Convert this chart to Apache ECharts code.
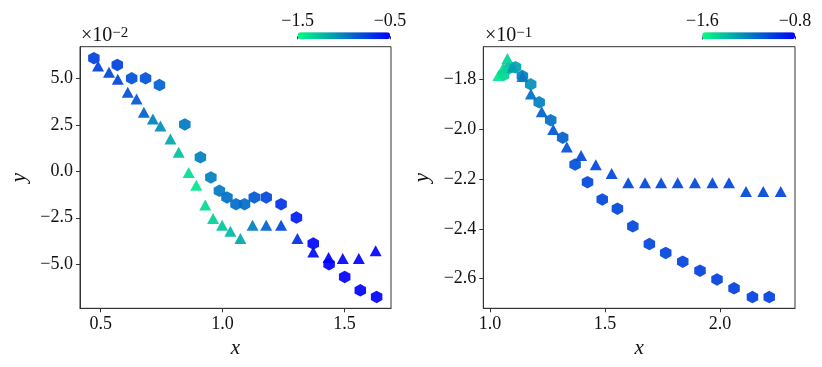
<!DOCTYPE html>
<html>
<head>
<meta charset="utf-8">
<script src="https://cdn.jsdelivr.net/npm/echarts@6/dist/echarts.min.js"></script>
<style>
  html, body { margin: 0; padding: 0; background: #fff; }
  #chart { width: 822px; height: 367px; }
</style>
</head>
<body>
<div id="chart"></div>
<script>
// left panel (y shown in units of 1e-2), colour value = third column
var leftHexX = [0.472, 0.568, 0.627, 0.684, 0.741, 0.845, 0.909, 0.952, 0.987, 1.018, 1.055,
  1.090, 1.130, 1.179, 1.240, 1.303, 1.372, 1.437, 1.501, 1.565, 1.632];
var leftHexY = [6.08, 5.72, 5.00, 5.00, 4.64, 2.52, 0.75, -0.33, -1.05, -1.41, -1.77,
  -1.77, -1.41, -1.41, -1.77, -2.49, -3.89, -5.00, -5.68, -6.40, -6.76];
var leftHexC = [-0.75, -0.75, -0.81, -0.81, -0.88, -0.97, -1.0, -1.0, -0.97, -0.94, -0.92,
  -0.92, -0.85, -0.78, -0.69, -0.60, -0.52, -0.50, -0.48, -0.46, -0.45];

var leftTriX = [0.489, 0.534, 0.570, 0.611, 0.647, 0.677, 0.714, 0.745, 0.786, 0.820, 0.861,
  0.892, 0.929, 0.961, 0.998, 1.032, 1.073, 1.123, 1.179, 1.240, 1.307, 1.372, 1.435,
  1.493, 1.559, 1.628];
var leftTriY = [5.66, 5.32, 4.95, 4.25, 3.89, 3.17, 2.81, 2.43, 1.73, 1.02, -0.06,
  -0.75, -1.82, -2.54, -2.90, -3.22, -3.62, -2.90, -2.90, -2.90, -3.62, -4.34, -4.64,
  -4.69, -4.69, -4.28];
var leftTriC = [-0.75, -0.78, -0.78, -0.81, -0.84, -0.88, -1.0, -1.06, -1.16, -1.25, -1.38,
  -1.40, -1.36, -1.32, -1.28, -1.22, -1.16, -1.0, -0.88, -0.78, -0.68, -0.55, -0.50,
  -0.48, -0.47, -0.46];

// right panel (y shown in units of 1e-1)
var rightHexX = [1.059, 1.083, 1.111, 1.141, 1.177, 1.214, 1.264, 1.316, 1.370, 1.424, 1.488,
  1.554, 1.621, 1.693, 1.764, 1.838, 1.913, 1.987, 2.061, 2.141, 2.214];
var rightHexY = [-1.783, -1.755, -1.751, -1.787, -1.820, -1.892, -1.964, -2.034, -2.142, -2.213, -2.282,
  -2.319, -2.390, -2.461, -2.497, -2.532, -2.568, -2.603, -2.639, -2.674, -2.674];
var rightHexC = [-1.46, -1.40, -1.30, -1.20, -1.25, -1.20, -1.15, -1.10, -1.05, -1.02, -1.02,
  -1.02, -1.02, -1.02, -1.01, -1.01, -1.0, -1.0, -1.0, -1.0, -1.0];

var rightTriX = [1.037, 1.057, 1.076, 1.098, 1.141, 1.178, 1.225, 1.275, 1.334, 1.396, 1.460,
  1.529, 1.601, 1.674, 1.744, 1.816, 1.891, 1.967, 2.039, 2.113, 2.188, 2.264];
var rightTriY = [-1.785, -1.755, -1.716, -1.751, -1.789, -1.859, -1.930, -2.001, -2.072, -2.106, -2.143,
  -2.178, -2.215, -2.215, -2.215, -2.215, -2.215, -2.215, -2.215, -2.250, -2.250, -2.250];
var rightTriC = [-1.52, -1.48, -1.46, -1.30, -1.18, -1.15, -1.10, -1.07, -1.05, -1.03, -1.02,
  -1.02, -1.02, -1.02, -1.02, -1.02, -1.02, -1.02, -1.02, -1.02, -1.02, -1.02];

var leftXTicks = [0.5, 1.0, 1.5];
var leftYTicks = [-5, -2.5, 0, 2.5, 5];
var rightXTicks = [1.0, 1.5, 2.0];
var rightYTicks = [-2.6, -2.4, -2.2, -2.0, -1.8];
var leftBarTicks = [-1.5, -0.5];
var rightBarTicks = [-1.6, -0.8];

function zip(xs, ys, cs) {
  return xs.map(function (x, i) { return [x, ys[i], cs[i]]; });
}
function fmt(v) {
  return (v < 0 ? "\u2212" : "") + Math.abs(v).toFixed(1);
}

var FONT = "Liberation Serif";
var AXIS = "#333";
var hexPath = "path://M0,-10 L8.66,-5 L8.66,5 L0,10 L-8.66,5 L-8.66,-5 Z";

function mainX(grid, min, max, ticks) {
  return {
    gridIndex: grid, type: "value", min: min, max: max,
    name: "x", nameLocation: "middle", nameGap: 27,
    nameTextStyle: { fontFamily: FONT, fontStyle: "italic", fontSize: 21, color: "#111" },
    axisLine: { show: true, onZero: false, lineStyle: { color: AXIS, width: 1 } },
    axisTick: { show: true, length: 4, customValues: ticks, lineStyle: { color: AXIS } },
    axisLabel: { customValues: ticks, formatter: fmt, margin: 7, fontFamily: FONT, fontSize: 18, color: "#111" },
    splitLine: { show: false }
  };
}
function mainY(grid, min, max, ticks, gap) {
  return {
    gridIndex: grid, type: "value", min: min, max: max,
    name: "y", nameLocation: "middle", nameGap: gap,
    nameTextStyle: { fontFamily: FONT, fontStyle: "italic", fontSize: 21, color: "#111" },
    axisLine: { show: true, onZero: false, lineStyle: { color: AXIS, width: 1 } },
    axisTick: { show: true, length: 4, customValues: ticks, lineStyle: { color: AXIS } },
    axisLabel: { customValues: ticks, formatter: fmt, margin: 7, fontFamily: FONT, fontSize: 18, color: "#111" },
    splitLine: { show: false }
  };
}
function barX(grid, ticks) {
  return {
    gridIndex: grid, type: "value", position: "top", min: ticks[0], max: ticks[1],
    axisLine: { show: false },
    axisTick: { show: true, length: 3, customValues: ticks, lineStyle: { color: AXIS } },
    axisLabel: { customValues: ticks, formatter: fmt, margin: 2, fontFamily: FONT, fontSize: 18, color: "#111" },
    splitLine: { show: false }
  };
}
function offsetTitle(left, exp) {
  return {
    text: "{a|\u00d710}{b|" + exp + "}", left: left, top: 26, padding: 0,
    textStyle: {
      fontWeight: "normal",
      rich: {
        a: { fontFamily: FONT, fontSize: 20, fontWeight: "normal", color: "#111", verticalAlign: "bottom", lineHeight: 20 },
        b: { fontFamily: FONT, fontSize: 15, fontWeight: "normal", color: "#111", verticalAlign: "top", lineHeight: 20 }
      }
    }
  };
}
function scatter(xi, data, symbol, size, z) {
  return {
    type: "scatter", xAxisIndex: xi, yAxisIndex: xi, data: data,
    symbol: symbol, symbolSize: size, z: z,
    itemStyle: { opacity: 0.92 }
  };
}

var option = {
  animation: false,
  textStyle: { fontFamily: FONT },
  title: [offsetTitle(81, "\u22122"), offsetTitle(485, "\u22121")],
  grid: [
    { left: 80, top: 46.7, width: 311, height: 261.6, show: true, borderColor: AXIS, borderWidth: 1 },
    { left: 483.3, top: 46.7, width: 311.7, height: 261.6, show: true, borderColor: AXIS, borderWidth: 1 },
    { left: 297.7, top: 32.3, width: 92.3, height: 7 },
    { left: 702.3, top: 32.3, width: 92.7, height: 7 }
  ],
  xAxis: [
    mainX(0, 0.415, 1.691, leftXTicks),
    mainX(1, 0.971, 2.326, rightXTicks),
    barX(2, leftBarTicks),
    barX(3, rightBarTicks)
  ],
  yAxis: [
    mainY(0, -7.37, 6.70, leftYTicks, 50),
    mainY(1, -2.719, -1.669, rightYTicks, 50),
    { gridIndex: 2, type: "value", show: false },
    { gridIndex: 3, type: "value", show: false }
  ],
  visualMap: [
    {
      type: "continuous", seriesIndex: [0, 1], dimension: 2,
      min: leftBarTicks[0], max: leftBarTicks[1],
      orient: "horizontal", left: 297.7, top: 32.3, itemWidth: 7, itemHeight: 92.3,
      padding: 0, calculable: false, hoverLink: false,
      inRange: { color: ["#00ff80", "#0000ff"] }
    },
    {
      type: "continuous", seriesIndex: [2, 3], dimension: 2,
      min: rightBarTicks[0], max: rightBarTicks[1],
      orient: "horizontal", left: 702.3, top: 32.3, itemWidth: 7, itemHeight: 92.7,
      padding: 0, calculable: false, hoverLink: false,
      inRange: { color: ["#00ff80", "#0000ff"] }
    }
  ],
  series: [
    scatter(0, zip(leftHexX, leftHexY, leftHexC), hexPath, [11.5, 12.5], 2),
    scatter(0, zip(leftTriX, leftTriY, leftTriC), "triangle", [12, 11], 3),
    scatter(1, zip(rightHexX, rightHexY, rightHexC), hexPath, [11.5, 12.5], 2),
    scatter(1, zip(rightTriX, rightTriY, rightTriC), "triangle", [12, 11], 3)
  ]
};

var myChart = echarts.init(document.getElementById("chart"));
myChart.setOption(option);
window.addEventListener("resize", function () {
  myChart.resize();
});
</script>
</body>
</html>
